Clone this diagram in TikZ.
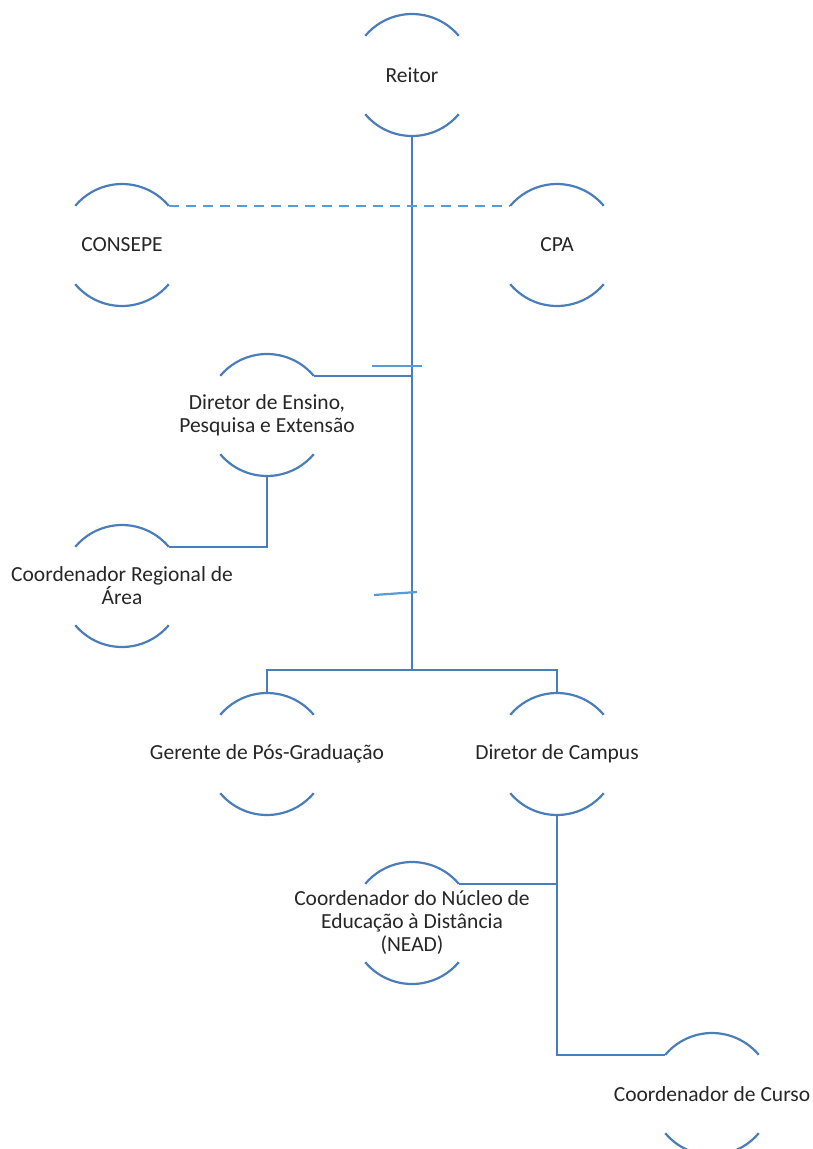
\documentclass[tikz,border=0pt]{standalone}
\usepackage{fontspec}
\setmainfont{Carlito}
\usetikzlibrary{calc}
\definecolor{lineblue}{HTML}{4A7EBB}
\definecolor{lightblue}{HTML}{5B9BD5}
\definecolor{ink}{HTML}{262626}
\tikzset{
  orgnode/.style={circle, minimum size=122pt, inner sep=0pt, outer sep=0pt},
  orgtext/.style={align=center, font=\fontsize{21.5}{23}\selectfont, text=ink},
  orgline/.style={draw=lineblue, line width=2.2pt},
  softline/.style={draw=lightblue, line width=2.2pt},
}

\begin{document}
\begin{tikzpicture}[x=1pt, y=1pt]
  \useasboundingbox (0,0) rectangle (812,-1149);
  % boxes
  \node[orgnode, label={[orgtext]center:Reitor}] (reitor) at (412,-75) {};
  \node[orgnode, label={[orgtext]center:CONSEPE}] (consepe) at (122,-245) {};
  \node[orgnode, label={[orgtext]center:CPA}] (cpa) at (557,-245) {};
  \node[orgnode, label={[orgtext]center:{Diretor de Ensino,\\ Pesquisa e Extensão}}] (ensino) at (267,-415) {};
  \node[orgnode, label={[orgtext]center:{Coordenador Regional de\\ Área}}] (regional) at (122,-586) {};
  \node[orgnode, label={[orgtext]center:Gerente de Pós-Graduação}] (gerente) at (267,-754) {};
  \node[orgnode, label={[orgtext]center:Diretor de Campus}] (campus) at (557,-754) {};
  \node[orgnode, label={[orgtext]center:{Coordenador do Núcleo de\\ Educação à Distância\\ (NEAD)}}] (nucleo) at (412,-923) {};
  \node[orgnode, label={[orgtext]center:Coordenador de Curso}] (curso) at (712,-1094) {};
  \foreach \n in {reitor,consepe,cpa,ensino,regional,gerente,campus,nucleo,curso}{
    \draw[orgline] (\n.40) arc[start angle=40, end angle=140, radius=61pt];
    \draw[orgline] (\n.220) arc[start angle=220, end angle=320, radius=61pt];
  }
  % connectors
  \coordinate (bus) at (412,-670);
  \draw[orgline] (reitor.south) -- (bus);
  \draw[orgline] (gerente.north) |- (bus) -| (campus.north);
  \draw[softline, dash pattern=on 10pt off 7pt] (consepe.40) -- (cpa.140);
  \draw[orgline] (ensino.40) -- (reitor.south |- ensino.40);
  \draw[orgline] (regional.40) -| (ensino.south);
  \draw[orgline] (nucleo.40) -- (campus.south |- nucleo.40);
  \draw[orgline] (campus.south) |- (curso.140);
  % stray ticks on the trunk
  \coordinate (tickA) at (372,-366);
  \coordinate (tickB) at (422,-366);
  \coordinate (tickC) at (374,-595);
  \coordinate (tickD) at (417,-592);
  \draw[softline] (tickA) -- (tickB);
  \draw[softline] (tickC) -- (tickD);
\end{tikzpicture}
\end{document}
